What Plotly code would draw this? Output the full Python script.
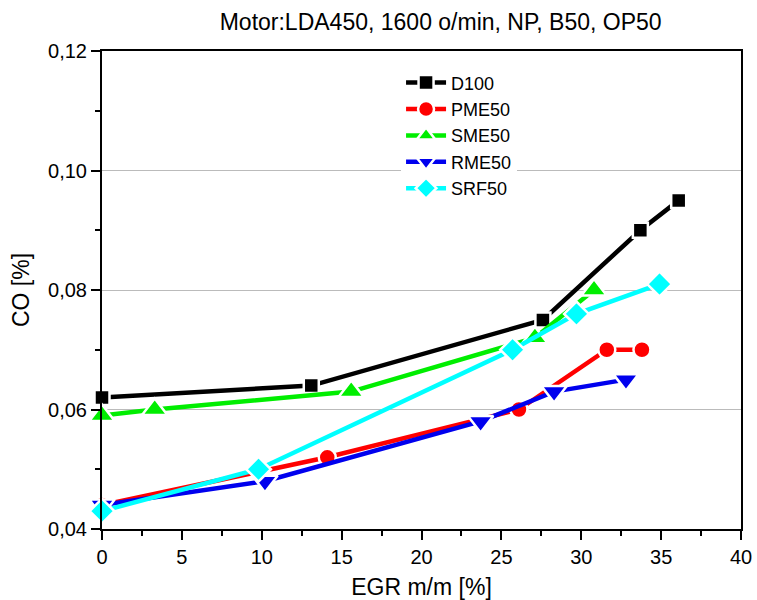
import plotly.graph_objects as go

# EGR mass fraction [%] and CO [%] for each fuel
d100_x = [0, 13.1, 27.6, 33.7, 36.1]
d100_y = [0.062, 0.064, 0.075, 0.090, 0.095]

pme50_x = [0, 14.1, 26.1, 31.6, 33.8]
pme50_y = [0.044, 0.052, 0.060, 0.070, 0.070]

sme50_x = [0, 3.3, 15.6, 27.1, 30.8]
sme50_y = [0.059, 0.060, 0.063, 0.072, 0.080]

rme50_x = [0, 10.2, 23.7, 28.3, 32.8]
rme50_y = [0.044, 0.048, 0.058, 0.063, 0.065]

srf50_x = [0, 9.8, 25.7, 29.7, 34.9]
srf50_y = [0.043, 0.050, 0.070, 0.076, 0.081]

series = [
    ("D100", d100_x, d100_y, "#000000", "square", 15),
    ("PME50", pme50_x, pme50_y, "#ff0000", "circle", 17),
    ("SME50", sme50_x, sme50_y, "#00ee00", "triangle-up", 22),
    ("RME50", rme50_x, rme50_y, "#0000ee", "triangle-down", 22),
    ("SRF50", srf50_x, srf50_y, "#00ffff", "diamond", 19),
]

font_family = "Liberation Sans, Arial, Helvetica, sans-serif"

fig = go.Figure()
for name, xs, ys, color, symbol, size in series:
    fig.add_trace(go.Scatter(
        x=xs, y=ys, name=name, mode="lines+markers",
        line=dict(color=color, width=4.5),
        marker=dict(symbol=symbol, size=size, color=color,
                    line=dict(color="white", width=2.5)),
        cliponaxis=False,
    ))

fig.update_layout(
    width=757, height=600,
    margin=dict(l=102, r=16, t=51, b=71),
    paper_bgcolor="white", plot_bgcolor="white",
    separators=",.",
    font=dict(family=font_family, size=19, color="black"),
    title=dict(text="Motor:LDA450, 1600 o/min, NP, B50, OP50",
               x=0.530, xref="paper", xanchor="center",
               y=0.963, yref="container", yanchor="middle",
               font=dict(family=font_family, size=23, color="black")),
    showlegend=True,
    legend=dict(x=0.468, y=0.972, xanchor="left", yanchor="top",
                bgcolor="white", borderwidth=0,
                font=dict(family=font_family, size=18),
                tracegroupgap=0, itemwidth=40),
)

fig.update_xaxes(
    range=[0, 40], tickvals=[0, 5, 10, 15, 20, 25, 30, 35, 40],
    ticks="outside", ticklen=9, tickwidth=2, tickcolor="black",
    tickfont=dict(size=20),
    minor=dict(dtick=2.5, ticks="outside", ticklen=5, tickwidth=2,
               tickcolor="black", showgrid=False),
    showline=True, linecolor="black", linewidth=2, mirror=True,
    showgrid=False, zeroline=False, automargin=False,
    title=dict(text="EGR m/m [%]", standoff=19, font=dict(size=23)),
)
fig.update_yaxes(
    range=[0.04, 0.12], tickvals=[0.04, 0.06, 0.08, 0.10, 0.12], tickformat=".2f",
    ticks="outside", ticklen=9, tickwidth=2, tickcolor="black",
    tickfont=dict(size=20),
    minor=dict(dtick=0.01, ticks="outside", ticklen=5, tickwidth=2,
               tickcolor="black", showgrid=False),
    showline=True, linecolor="black", linewidth=2, mirror=True,
    showgrid=True, gridcolor="#bbbbbb", gridwidth=1, zeroline=False,
    automargin=False,
    title=dict(text="CO [%]", standoff=12, font=dict(size=23)),
)

fig.write_html("out.html")
